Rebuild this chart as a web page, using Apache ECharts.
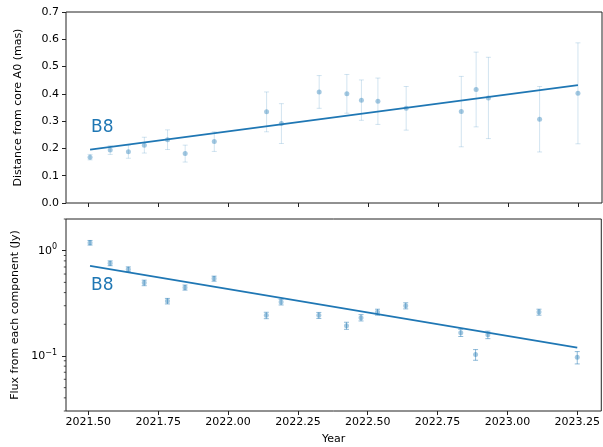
<!DOCTYPE html>
<html>
<head>
<meta charset="utf-8">
<script src="https://cdn.jsdelivr.net/npm/echarts@6/dist/echarts.min.js"></script>
<style>
html,body{margin:0;padding:0;background:#fff;}
#chart{width:603px;height:447px;}
</style>
</head>
<body>
<div id="chart"></div>
<script>
// ---- data ----
const years = [2021.506, 2021.578, 2021.643, 2021.700, 2021.783, 2021.846, 2021.950,
  2022.137, 2022.190, 2022.325, 2022.424, 2022.476, 2022.535, 2022.636,
  2022.833, 2022.886, 2022.930, 2023.113, 2023.250];
const distance = [0.168, 0.194, 0.188, 0.212, 0.232, 0.181, 0.225,
  0.334, 0.291, 0.407, 0.400, 0.377, 0.373, 0.347,
  0.335, 0.416, 0.385, 0.307, 0.402];
const distanceErr = [0.010, 0.016, 0.024, 0.029, 0.036, 0.031, 0.036,
  0.073, 0.073, 0.060, 0.071, 0.074, 0.085, 0.080,
  0.129, 0.137, 0.149, 0.120, 0.185];
const flux = [1.19, 0.760, 0.667, 0.495, 0.332, 0.447, 0.543,
  0.243, 0.325, 0.243, 0.194, 0.231, 0.261, 0.300,
  0.166, 0.103, 0.159, 0.261, 0.097];
const fluxErr = [0.06, 0.04, 0.035, 0.03, 0.02, 0.025, 0.03,
  0.017, 0.02, 0.016, 0.015, 0.016, 0.017, 0.02,
  0.013, 0.012, 0.013, 0.017, 0.013];
const fitYears = [2021.506, 2023.25];
const fitDistance = [0.196, 0.432];
const fitFlux = [0.716, 0.120];
const xTicks = [2021.50, 2021.75, 2022.00, 2022.25, 2022.50, 2022.75, 2023.00, 2023.25];
const logMajorTicks = [0.1, 1];
const logMinorTicks = [0.03, 0.04, 0.05, 0.06, 0.07, 0.08, 0.09, 0.2, 0.3, 0.4, 0.5, 0.6, 0.7, 0.8, 0.9, 2];
const componentName = 'B8';
const labelPosTop = [2021.5097, 0.2755];
const labelPosBottom = [2021.5097, 0.4635];

// ---- chart ----
const FONT = 'DejaVu Sans';
const BLUE = '#1f77b4';
const xMin = 2021.42, xMax = 2023.336;
const chart = echarts.init(document.getElementById('chart'), null, {renderer: 'canvas'});

function errData(vals, errs) {
  return years.map((y, i) => [y, vals[i], vals[i] - errs[i], vals[i] + errs[i]]);
}
function errRenderer(color, cap) {
  return function (params, api) {
    const x = api.value(0);
    const p1 = api.coord([x, api.value(2)]);
    const p2 = api.coord([x, api.value(3)]);
    const st = {stroke: color, lineWidth: 1};
    return {type: 'group', children: [
      {type: 'line', shape: {x1: p1[0], y1: p1[1], x2: p2[0], y2: p2[1]}, style: st},
      {type: 'line', shape: {x1: p1[0] - cap, y1: p1[1], x2: p1[0] + cap, y2: p1[1]}, style: st},
      {type: 'line', shape: {x1: p2[0] - cap, y1: p2[1], x2: p2[0] + cap, y2: p2[1]}, style: st}
    ]};
  };
}

const axisLabelStyle = {fontFamily: FONT, fontSize: 11, color: '#000'};
const nameStyle = {fontFamily: FONT, fontSize: 11, color: '#000'};

const option = {
  animation: false,
  backgroundColor: '#fff',
  grid: [
    {left: 66, right: 1, top: 12, height: 191, show: true, borderColor: '#222', borderWidth: 1, backgroundColor: 'transparent'},
    {left: 66, right: 1, top: 219, height: 192, show: true, borderColor: '#222', borderWidth: 1, backgroundColor: 'transparent'}
  ],
  xAxis: [
    {type: 'value', gridIndex: 0, min: xMin, max: xMax,
      axisLine: {show: false}, splitLine: {show: false},
      axisTick: {show: true, length: 4, lineStyle: {color: '#222'}, customValues: xTicks},
      axisLabel: {show: false, customValues: xTicks}},
    {type: 'value', gridIndex: 1, min: xMin, max: xMax,
      name: 'Year', nameLocation: 'middle', nameGap: 23, nameTextStyle: nameStyle,
      axisLine: {show: false}, splitLine: {show: false},
      axisTick: {show: true, length: 4, lineStyle: {color: '#222'}, customValues: xTicks},
      axisLabel: Object.assign({customValues: xTicks, margin: 6, formatter: v => v.toFixed(2)}, axisLabelStyle)}
  ],
  yAxis: [
    {type: 'value', gridIndex: 0, min: 0, max: 0.7, interval: 0.1,
      name: 'Distance from core A0 (mas)', nameLocation: 'middle', nameGap: 42, nameTextStyle: nameStyle,
      axisLine: {show: false}, splitLine: {show: false},
      axisTick: {show: true, length: 4, lineStyle: {color: '#222'}},
      axisLabel: Object.assign({margin: 7, formatter: v => v.toFixed(1)}, axisLabelStyle)},
    {type: 'log', gridIndex: 1, min: 0.03, max: 2, logBase: 10,
      name: 'Flux from each component (Jy)', nameLocation: 'middle', nameGap: 42, nameTextStyle: nameStyle,
      axisLine: {show: false}, splitLine: {show: false},
      axisTick: {show: true, length: 4, lineStyle: {color: '#222'}, customValues: logMajorTicks},
      axisLabel: Object.assign({
        customValues: logMajorTicks, margin: 9,
        formatter: v => {
          const e = Math.round(Math.log10(v));
          return '10{sup|' + (e < 0 ? '\u2212' + (-e) : e) + '}';
        },
        rich: {sup: {fontFamily: FONT, fontSize: 8, color: '#000', verticalAlign: 'top', padding: [0, 0, 7, 0]}}
      }, axisLabelStyle)}
  ],
  series: [
    {type: 'custom', xAxisIndex: 0, yAxisIndex: 0, z: 1, silent: true,
      renderItem: errRenderer('rgba(31,119,180,0.2)', 2.5), data: errData(distance, distanceErr)},
    {type: 'scatter', xAxisIndex: 0, yAxisIndex: 0, z: 2, symbolSize: 5, silent: true,
      itemStyle: {color: 'rgba(31,119,180,0.5)'}, data: years.map((y, i) => [y, distance[i]])},
    {type: 'line', xAxisIndex: 0, yAxisIndex: 0, z: 3, showSymbol: false, silent: true,
      lineStyle: {color: BLUE, width: 1.8}, data: fitYears.map((y, i) => [y, fitDistance[i]])},
    {type: 'custom', xAxisIndex: 1, yAxisIndex: 1, z: 1, silent: true,
      renderItem: errRenderer('rgba(31,119,180,0.5)', 2.5), data: errData(flux, fluxErr)},
    {type: 'scatter', xAxisIndex: 1, yAxisIndex: 1, z: 2, symbolSize: 5, silent: true,
      itemStyle: {color: 'rgba(31,119,180,0.5)'}, data: years.map((y, i) => [y, flux[i]])},
    {type: 'line', xAxisIndex: 1, yAxisIndex: 1, z: 3, showSymbol: false, silent: true,
      lineStyle: {color: BLUE, width: 1.8}, data: fitYears.map((y, i) => [y, fitFlux[i]])},
    // minor ticks of the log axis
    {type: 'custom', xAxisIndex: 1, yAxisIndex: 1, z: 5, silent: true, clip: false,
      renderItem: function (params, api) {
        const p = api.coord([xMin, api.value(0)]);
        return {type: 'line', shape: {x1: p[0], y1: p[1], x2: p[0] - 2.2, y2: p[1]},
          style: {stroke: '#222', lineWidth: 0.8}};
      },
      data: logMinorTicks.map(v => [v])}
  ]
};
chart.setOption(option);

const pTop = chart.convertToPixel({xAxisIndex: 0, yAxisIndex: 0}, labelPosTop);
const pBot = chart.convertToPixel({xAxisIndex: 1, yAxisIndex: 1}, labelPosBottom);
chart.setOption({
  graphic: [
    {type: 'text', x: pTop[0], y: pTop[1], style: {text: componentName, fill: BLUE, fontFamily: FONT, fontSize: 17, verticalAlign: 'middle', align: 'left'}},
    {type: 'text', x: pBot[0], y: pBot[1], style: {text: componentName, fill: BLUE, fontFamily: FONT, fontSize: 17, verticalAlign: 'middle', align: 'left'}}
  ]
});
</script>
</body>
</html>
